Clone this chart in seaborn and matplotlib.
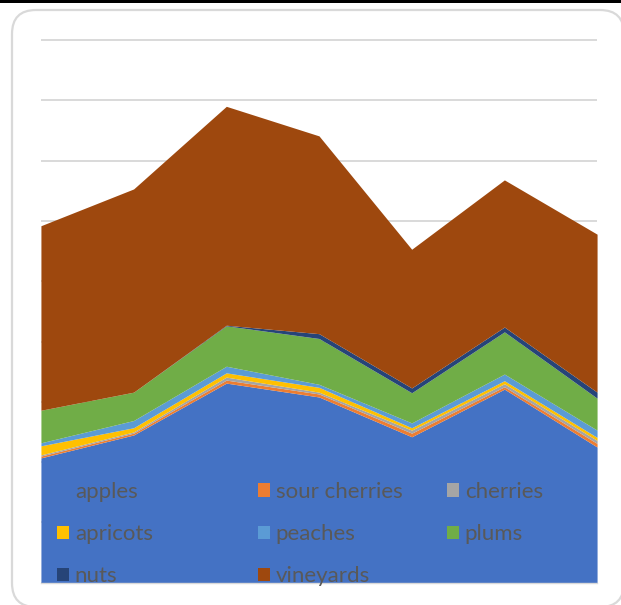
import matplotlib
matplotlib.use("Agg")
import matplotlib.pyplot as plt
from matplotlib.patches import Patch, FancyBboxPatch, Rectangle
from matplotlib.font_manager import FontProperties
import seaborn as sns

# Orchard and vineyard area by period (stacked)
periods = [1, 2, 3, 4, 5, 6, 7]
apples = [20.7, 24.5, 33.1, 30.8, 24.2, 32.1, 22.5]
sour_cherries = [0.3, 0.3, 0.5, 0.5, 0.6, 0.4, 0.6]
cherries = [0.2, 0.2, 0.5, 0.3, 0.5, 0.5, 0.5]
apricots = [1.5, 0.7, 0.7, 0.8, 0.4, 0.5, 0.5]
peaches = [0.5, 1.2, 1.1, 0.5, 0.8, 1.1, 1.2]
plums = [5.4, 4.7, 6.7, 7.6, 5.0, 7.0, 5.3]
nuts = [0.0, 0.0, 0.1, 0.8, 0.8, 0.8, 1.0]
vineyards = [30.6, 33.7, 36.3, 32.8, 23.0, 24.4, 26.2]

labels = ["apples", "sour cherries", "cherries", "apricots",
          "peaches", "plums", "nuts", "vineyards"]
series = [apples, sour_cherries, cherries, apricots, peaches, plums, nuts, vineyards]

sns.set_theme(style="white")
plt.rcParams["font.family"] = ["Lato", "DejaVu Sans"]
palette = sns.color_palette(["#4472C4", "#ED7D31", "#A5A5A5", "#FFC000",
                             "#5B9BD5", "#70AD47", "#264478", "#9E480E"])

W, H = 621, 605
fig = plt.figure(figsize=(W / 100, H / 100), dpi=100)
fig.patch.set_facecolor("white")

# background layer: rounded chart frame and top rule
bg = fig.add_axes([0, 0, 1, 1], zorder=-1)
bg.set_xlim(0, W)
bg.set_ylim(H, 0)
bg.axis("off")
bg.add_patch(FancyBboxPatch((12, 10), 612, 597,
                            boxstyle="round,pad=0,rounding_size=24",
                            ec="#D9D9D9", fc="white", lw=1.6))
bg.add_patch(Rectangle((0, 0), W, 3.3, color="black", lw=0))

# plot area
left, right, top, bottom = 41.3, 596.7, 38.0, 582.7
ax = fig.add_axes([left / W, (H - bottom) / H, (right - left) / W, (bottom - top) / H])
ax.set_facecolor("none")
ax.stackplot(periods, *series, colors=palette, linewidth=0, antialiased=True)
ax.set_xlim(periods[0] + 0.004, periods[-1] - 0.004)
ax.set_ylim(0, (bottom - top) / 6.03)
ax.set_yticks(range(0, 91, 10))
ax.grid(axis="y", color="#D9D9D9", lw=1.4)
ax.grid(axis="x", visible=False)
ax.set_axisbelow(True)
ax.tick_params(left=False, bottom=False, labelleft=False, labelbottom=False)
for side in ["left", "right", "top"]:
    ax.spines[side].set_visible(False)
ax.spines["bottom"].set_color("#D9D9D9")
ax.spines["bottom"].set_linewidth(1.0)

# legend in three columns laid over the plot
font = FontProperties(family=["Lato", "DejaVu Sans"], size=16)
handles = [Patch(facecolor=c, edgecolor="none") for c in palette]
columns = [[0, 3, 6], [1, 4, 7], [2, 5]]
col_x = [57, 258, 447]
for idx, x in zip(columns, col_x):
    fig.legend([handles[i] for i in idx], [labels[i] for i in idx],
               loc="upper left", bbox_to_anchor=(x / W, 1 - 482 / H),
               bbox_transform=fig.transFigure, frameon=False,
               borderpad=0, borderaxespad=0, handlelength=0.55,
               handleheight=0.55, handletextpad=0.25, labelspacing=1.0,
               prop=font, labelcolor="#595959")

fig.savefig("out.png", dpi=100, facecolor="white")
